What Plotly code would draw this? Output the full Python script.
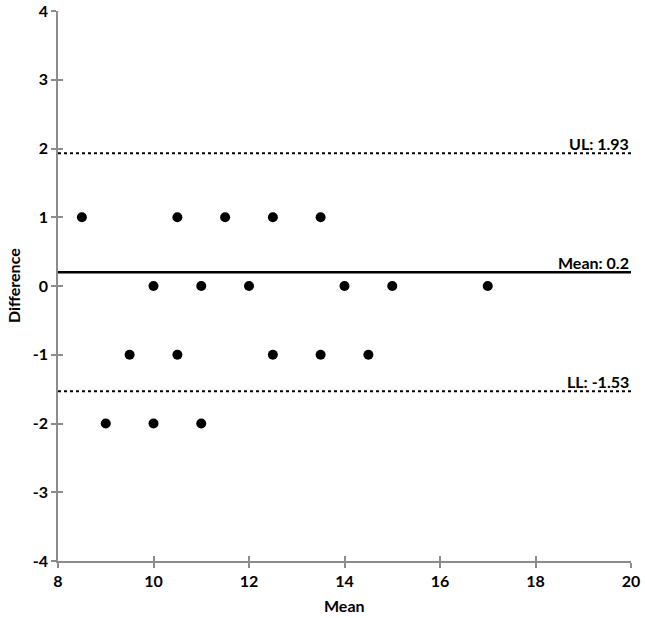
import plotly.graph_objects as go

mean_x = [8.5, 10.5, 11.5, 12.5, 13.5,
          10, 11, 12, 14, 15, 17,
          9.5, 10.5, 12.5, 13.5, 14.5,
          9, 10, 11]
diff_y = [1, 1, 1, 1, 1,
          0, 0, 0, 0, 0, 0,
          -1, -1, -1, -1, -1,
          -2, -2, -2]
x_ticks = [8, 10, 12, 14, 16, 18, 20]
y_ticks = [-4, -3, -2, -1, 0, 1, 2, 3, 4]
mean_diff = 0.2
upper_limit = 1.93
lower_limit = -1.53
ref_lines = [("UL: 1.93", upper_limit, "dot"), ("Mean: 0.2", mean_diff, "solid"), ("LL: -1.53", lower_limit, "dot")]

FONT = "Lato, 'Open Sans', sans-serif"
AXC = "#8c8c8c"
FS = 16

fig = go.Figure()
for label, yv, dash in ref_lines:
    fig.add_trace(go.Scatter(x=[8, 20], y=[yv, yv], mode="lines",
                             line=dict(color="black", width=2.5 if dash == "solid" else 2, dash=dash),
                             hoverinfo="skip", showlegend=False))
    fig.add_annotation(x=20, y=yv, xref="x", yref="y", text="<b>%s</b>" % label,
                       showarrow=False, xanchor="right", yanchor="bottom", yshift=-2,
                       font=dict(family=FONT, size=FS, color="black"))

fig.add_trace(go.Scatter(x=mean_x, y=diff_y, mode="markers",
                         marker=dict(color="black", size=10), showlegend=False))

fig.add_annotation(x=0.5, y=0, xref="paper", yref="paper", text="<b>Mean</b>",
                   showarrow=False, xanchor="center", yanchor="middle", yshift=-44,
                   font=dict(family=FONT, size=FS, color="black"))
fig.add_annotation(x=0, y=0.5, xref="paper", yref="paper", text="<b>Difference</b>",
                   showarrow=False, xanchor="center", yanchor="middle", xshift=-45, textangle=-90,
                   font=dict(family=FONT, size=FS, color="black"))

fig.update_layout(
    width=645, height=618,
    margin=dict(l=58, r=14, t=11, b=57),
    paper_bgcolor="white", plot_bgcolor="white",
    font=dict(family=FONT, size=FS, color="black"),
    xaxis2=dict(overlaying="x", range=[8, 20], tickvals=x_ticks, showticklabels=False,
                showgrid=False, zeroline=False, ticks="inside", ticklen=5, tickcolor=AXC,
                tickwidth=1.5, automargin=False),
    yaxis2=dict(overlaying="y", range=[-4, 4], tickvals=y_ticks, showticklabels=False,
                showgrid=False, zeroline=False, ticks="inside", ticklen=5, tickcolor=AXC,
                tickwidth=1.5, automargin=False),
)
# invisible trace to activate the secondary (tick-only) axes
fig.add_trace(go.Scatter(x=[8], y=[-4], xaxis="x2", yaxis="y2", mode="markers",
                         marker=dict(opacity=0), hoverinfo="skip", showlegend=False))
fig.layout.xaxis.update(range=[8, 20], tickvals=x_ticks, ticktext=["<b>%d</b>" % v for v in x_ticks],
                        showgrid=False, zeroline=False, showline=True, linecolor=AXC, linewidth=1.5,
                        ticks="outside", ticklen=5, tickcolor=AXC, tickwidth=1.5, automargin=False,
                        ticklabeloverflow="allow")
fig.layout.yaxis.update(range=[-4, 4], tickvals=y_ticks, ticktext=["<b>%d</b>" % v for v in y_ticks],
                        showgrid=False, zeroline=False, showline=True, linecolor=AXC, linewidth=1.5,
                        ticks="outside", ticklen=5, tickcolor=AXC, tickwidth=1.5, automargin=False,
                        ticklabeloverflow="allow")

fig.write_html("out.html", config={"displayModeBar": False},
               post_script="document.body.style.margin='0';document.body.style.overflow='hidden';")
